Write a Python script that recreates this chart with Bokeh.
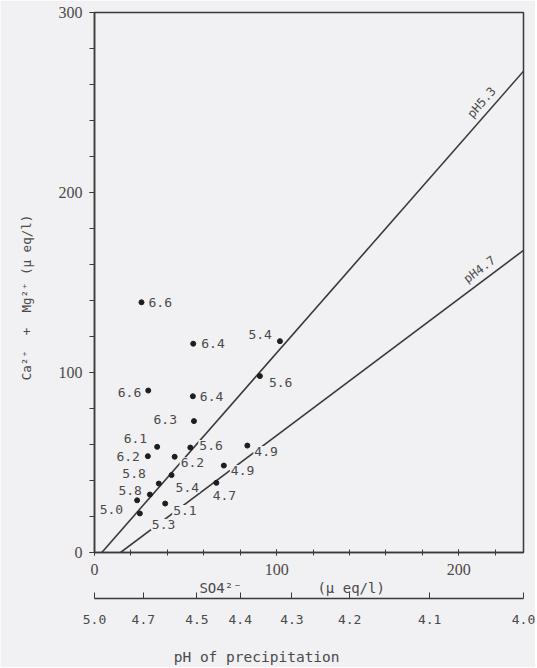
import math
from bokeh.plotting import figure
from bokeh.models import ColumnDataSource, FixedTicker, LinearAxis, Range1d, Label
from bokeh.embed import file_html
from bokeh.resources import INLINE
from bokeh.core.properties import value

# ---------------- data ----------------
so4 = [25.8, 54.2, 101.8, 90.8, 29.5, 54.0, 54.6, 34.4, 52.6, 29.3,
       44.0, 42.3, 35.3, 30.4, 23.4, 24.9, 38.8, 83.9, 71.0, 66.9]
camg = [139.0, 116.0, 117.4, 98.0, 90.0, 86.8, 73.0, 58.7, 58.3, 53.5,
        53.2, 43.0, 38.3, 32.2, 29.0, 21.7, 27.2, 59.4, 48.3, 38.7]
ph_labels = ["6.6", "6.4", "5.4", "5.6", "6.6", "6.4", "6.3", "6.1", "5.6", "6.2",
             "6.2", "5.4", "5.8", "5.8", "5.0", "5.3", "5.1", "4.9", "4.9", "4.7"]

# reference lines: name, SO4 intercept, slope
line_names = ["pH5.3", "pH4.7"]
line_x0 = [4.0, 14.3]
line_slope = [1.155, 0.759]
line_label_x = [217.0, 215.0]

# secondary (pH) axis
ph_tick_text = ["5.0", "4.7", "4.5", "4.4", "4.3", "4.2", "4.1", "4.0"]
ph_tick_so4 = [0.0, 26.8, 56.2, 80.0, 108.4, 140.1, 184.0, 235.5]

x_major = [0, 100, 200]
x_minor = list(range(0, 236, 20))
y_major = [0, 100, 200, 300]
y_minor = list(range(0, 301, 20))

# ---------------- label placement (style, px) ----------------
lab_dx = [6, 7, -7, 8, -6, 6, -16, -9, 8, -7, 5, 3, -12, -7, -13, 11, 7, 6, 6, 8]
lab_dy = [0, 0, -7, 6, 2, 0, -2, -8, -2, 0, 6, 12, -10, -4, 9, 11, 7, 6, 5, 13]
lab_align = ["left", "left", "right", "left", "right", "left", "right", "right", "left", "right",
             "left", "left", "right", "right", "right", "left", "left", "left", "left", "center"]

BG = "#f1f0f2"
INK = "#3a3a3a"
TXT = "#4a4a4a"
MONO = "DejaVu Sans Mono"
NB = "\u00a0"

X_END = 235.5
Y_END = 300.0

p = figure(width=535, height=667, x_range=Range1d(0, X_END), y_range=Range1d(0, Y_END),
           output_backend="svg", toolbar_location=None,
           min_border_left=94, min_border_right=12, min_border_top=12, min_border_bottom=114,
           background_fill_color=BG, border_fill_color=BG)
p.xgrid.visible = False
p.ygrid.visible = False
p.outline_line_color = INK
p.outline_line_width = 1.5

# main x axis
xa = p.xaxis[0]
xa.ticker = FixedTicker(ticks=x_major, minor_ticks=x_minor)
xa.major_tick_in = 3
xa.major_tick_out = 3
xa.minor_tick_in = 3
xa.minor_tick_out = 3
xa.axis_line_color = INK
xa.axis_line_width = 1.5
xa.major_tick_line_color = INK
xa.minor_tick_line_color = INK
xa.major_label_text_font = "Liberation Sans Narrow"
xa.major_label_text_font_size = "16px"
xa.major_label_text_color = TXT
xa.major_label_standoff = 8
xa.axis_label = "SO4²⁻" + NB * 9 + "(μ eq/l)" + NB * 4
xa.axis_label_text_font = MONO
xa.axis_label_text_font_style = "normal"
xa.axis_label_text_font_size = "14px"
xa.axis_label_text_color = TXT
xa.axis_label_standoff = 2

# y axis
ya = p.yaxis[0]
ya.ticker = FixedTicker(ticks=y_major, minor_ticks=y_minor)
ya.major_tick_in = 0
ya.major_tick_out = 5
ya.minor_tick_in = 0
ya.minor_tick_out = 5
ya.axis_line_color = INK
ya.axis_line_width = 1.5
ya.major_tick_line_color = INK
ya.minor_tick_line_color = INK
ya.major_label_text_font = "Liberation Sans Narrow"
ya.major_label_text_font_size = "16px"
ya.major_label_text_color = TXT
ya.major_label_standoff = 7
ya.axis_label = "Ca²⁺" + NB * 2 + "+" + NB * 2 + "Mg²⁺" + NB + "(μ eq/l)" + NB * 4
ya.axis_label_text_font = MONO
ya.axis_label_text_font_style = "normal"
ya.axis_label_text_font_size = "12.5px"
ya.axis_label_text_color = TXT
ya.axis_label_standoff = 22

# secondary pH axis below
pha = LinearAxis(ticker=FixedTicker(ticks=ph_tick_so4, minor_ticks=[]),
                 major_label_overrides={t: s for t, s in zip(ph_tick_so4, ph_tick_text)})
pha.major_tick_in = 6
pha.major_tick_out = 0
pha.axis_line_color = INK
pha.axis_line_width = 1.5
pha.major_tick_line_color = INK
pha.major_label_text_font = MONO
pha.major_label_text_font_size = "13px"
pha.major_label_text_color = TXT
pha.major_label_standoff = 16
pha.axis_label = "pH of precipitation" + NB * 12
pha.axis_label_text_font = MONO
pha.axis_label_text_font_style = "normal"
pha.axis_label_text_font_size = "14.5px"
pha.axis_label_text_color = TXT
pha.axis_label_standoff = 22
p.add_layout(pha, "below")

# reference lines
seg = ColumnDataSource(dict(
    x0=line_x0, y0=[0.0] * len(line_x0), x1=[X_END] * len(line_x0),
    y1=[s * (X_END - x0) for s, x0 in zip(line_slope, line_x0)]))
p.segment("x0", "y0", "x1", "y1", source=seg, line_color=INK, line_width=1.6)

# line labels (rotated along the lines)
sx = 429.0 / X_END
sy = 541.0 / Y_END
for name, x0, s, lx in zip(line_names, line_x0, line_slope, line_label_x):
    th = math.atan(s * sy / sx)
    off = 4
    p.add_layout(Label(x=lx, y=s * (lx - x0), text=name, angle=th, angle_units="rad",
                       text_align="center", text_baseline="bottom",
                       x_offset=-off * math.sin(th), y_offset=off * math.cos(th),
                       text_font=MONO, text_font_size="12px", text_color=TXT))

# point labels (with background, producing the gaps in the lines)
src = ColumnDataSource(dict(x=so4, y=camg, t=ph_labels, dx=lab_dx, dy=lab_dy, al=lab_align))
p.text("x", "y", text="t", x_offset="dx", y_offset="dy", text_align="al",
       text_baseline="middle", text_font=value(MONO), text_font_size="13px",
       text_color=TXT, background_fill_color=BG, padding=1, source=src)

# points
p.scatter(so4, camg, size=5, color="#1e1e1e")

html = file_html(p, INLINE)
html = html.replace("<body>", '<body style="background-color:%s;">' % BG, 1)
open("out.html", "w").write(html)
